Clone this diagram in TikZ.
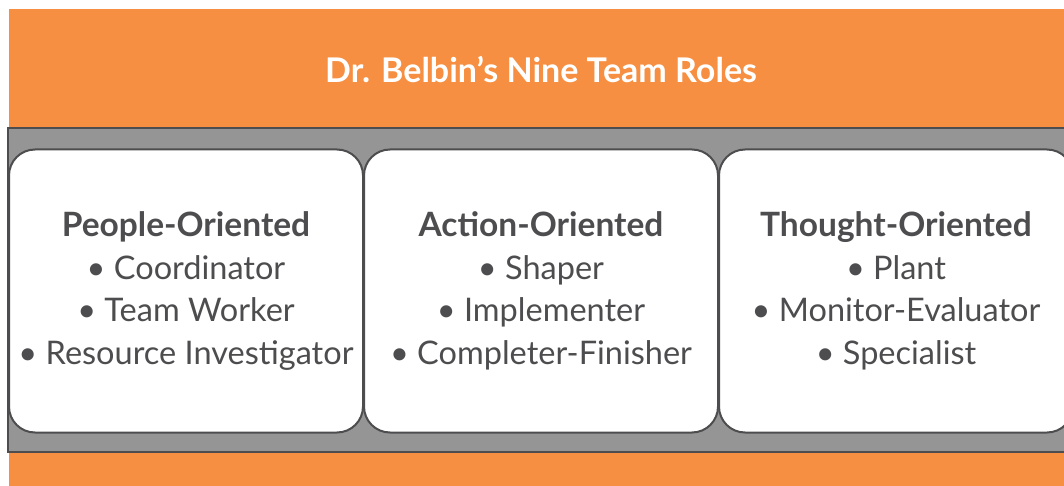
\documentclass[tikz,border=0pt]{standalone}
\usepackage{fontspec}
\setmainfont{Lato}
\usepackage{tikz}
\usetikzlibrary{positioning}
\definecolor{belbinorange}{HTML}{F68F41}
\definecolor{bandgray}{HTML}{959596}
\definecolor{linegray}{HTML}{4D4D4F}
\definecolor{textgray}{HTML}{4D4D4F}
\newcommand{\rolehead}[1]{{\fontsize{33.5}{42.5}\selectfont\bfseries #1}}

\begin{document}
\begin{tikzpicture}[x=1pt,y=-1pt,
    rolebox/.style={draw=linegray, line width=2pt, fill=white,
        rounded corners=26pt, minimum width=354pt, minimum height=283pt,
        align=center, text=textgray, inner sep=0pt,
        font=\fontsize{32.5}{42.5}\selectfont},
    ]
\useasboundingbox (0,0) rectangle (1064,486);
\clip (0,0) rectangle (1064,486);

% Orange background
\fill[belbinorange] (9,9) rectangle (1070,490);

% Title
\node[text=white,
    font=\fontsize{34}{40}\selectfont\bfseries
    ] (title) at (541,70) {Dr. Belbin’s Nine Team Roles};

% Gray band
\draw[linegray, line width=2pt, fill=bandgray] (8,128) rectangle (1090,452);

% Role blocks
\node[rolebox] (people) at (186,291) {\rolehead{People-Oriented}\\
    • Coordinator\\
    • Team Worker\\
    • Resource Investigator};

\node[rolebox,
    right=-1pt of people
    ] (action) {\rolehead{Action-Oriented}\\
    • Shaper\\
    • Implementer\\
    • Completer-Finisher};

\node[rolebox,
    right=-1pt of action
    ] (thought) {\rolehead{Thought-Oriented}\\
    • Plant\\
    • Monitor-Evaluator\\
    • Specialist};

\end{tikzpicture}
\end{document}
